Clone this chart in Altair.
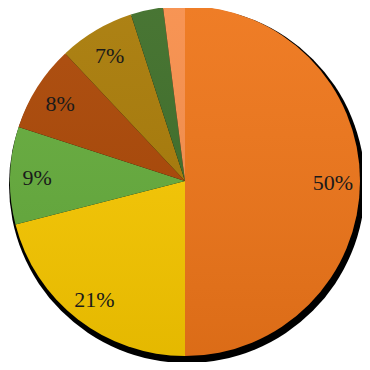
import altair as alt
import pandas as pd

categories = ["A", "B", "C", "D", "E", "F", "G"]
values = [50, 21, 9, 8, 7, 3, 2]
labels = ["50%", "21%", "9%", "8%", "7%", "", ""]
colors = ["#EE7519", "#F8C800", "#64AB3B", "#AA4604", "#A87A06", "#3D6D27", "#F78E4A"]

df = pd.DataFrame({"cat": categories, "value": values, "label": labels,
                   "order": list(range(len(values)))})

CX, CY, R = 177, 173, 175

shadow = alt.Chart(pd.DataFrame({"d": [1]})).mark_arc(
    theta=0, theta2=6.2832, color="#000000", radius=178
).encode(x=alt.value(CX + 2), y=alt.value(CY + 4))

pie = alt.Chart(df).mark_arc(radius=R, stroke=None).encode(
    theta=alt.Theta("value:Q", stack=True),
    order=alt.Order("order:Q"),
    color=alt.Color("cat:N", scale=alt.Scale(domain=categories, range=colors), legend=None),
    x=alt.value(CX), y=alt.value(CY),
)

shade = alt.Chart(pd.DataFrame({"d": [1]})).mark_arc(
    theta=0, theta2=6.2832, radius=R,
    fill=alt.LinearGradient(
        gradient="linear", x1=0, y1=0, x2=0, y2=1,
        stops=[alt.GradientStop(color="rgba(255,255,255,0.06)", offset=0),
               alt.GradientStop(color="rgba(0,0,0,0.08)", offset=1)],
    ),
).encode(x=alt.value(CX), y=alt.value(CY))

text = alt.Chart(df).mark_text(
    radius=148, dy=2, font="Liberation Serif", fontSize=22, color="#1a1a1a"
).encode(
    theta=alt.Theta("value:Q", stack=True),
    order=alt.Order("order:Q"),
    text="label:N",
    x=alt.value(CX), y=alt.value(CY),
)

chart = alt.layer(shadow, pie, shade, text).properties(
    width=354, height=354, autosize=alt.AutoSizeParams(type="none"), padding=0
).configure_view(stroke=None)

chart.save("out.html", embed_options={"renderer": "svg", "actions": False})
